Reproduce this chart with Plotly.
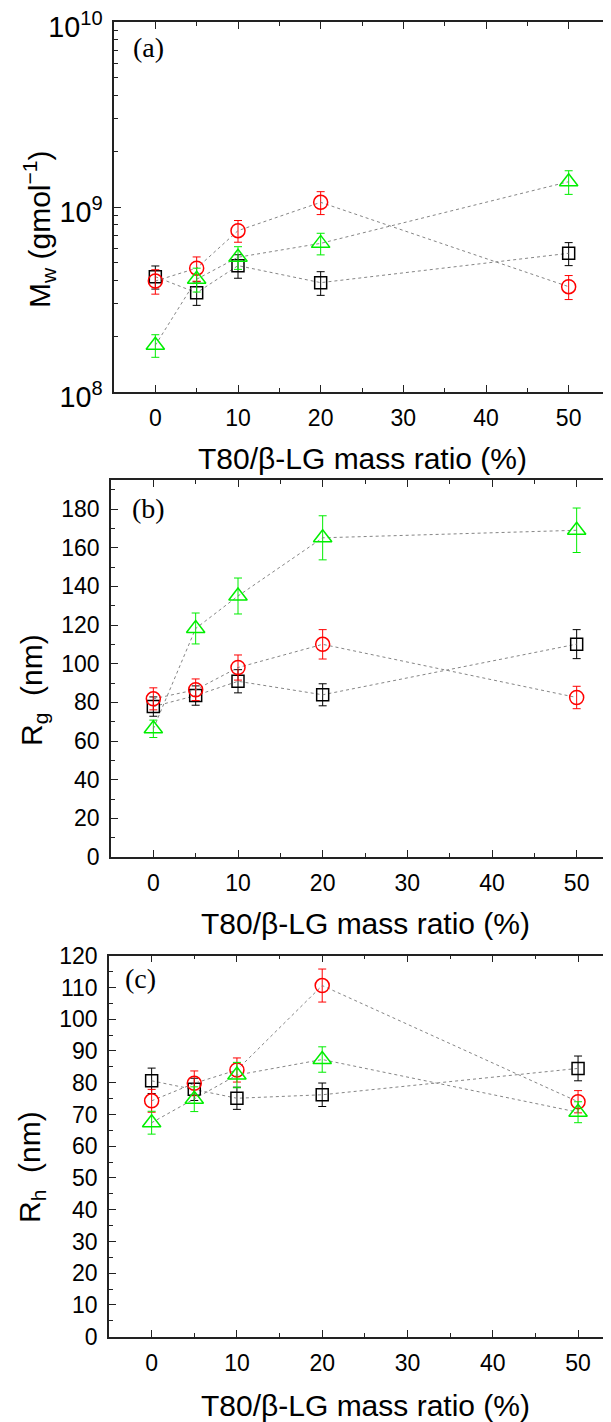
import plotly.graph_objects as go

# ---------------- data ----------------
ratio = [0, 5, 10, 20, 50]

mw_black = [4.2e8, 3.44e8, 4.82e8, 3.9e8, 5.62e8]
mw_black_err = [0.6e8, 0.5e8, 0.7e8, 0.57e8, 0.8e8]
mw_red = [3.98e8, 4.67e8, 7.45e8, 1.06e9, 3.71e8]
mw_red_err = [0.6e8, 0.7e8, 1.0e8, 1.5e8, 0.55e8]
mw_green = [1.79e8, 4.07e8, 5.35e8, 6.36e8, 1.37e9]
mw_green_err = [0.25e8, 0.6e8, 0.75e8, 0.85e8, 0.2e9]

rg_black = [77.8, 83.5, 90.9, 83.9, 110.1]
rg_black_err = [5.0, 5.0, 6.0, 5.7, 7.5]
rg_red = [81.8, 86.5, 98.0, 110.0, 82.5]
rg_red_err = [5.7, 5.6, 6.5, 7.6, 5.8]
rg_green = [66.3, 118.2, 135.0, 165.1, 169.0]
rg_green_err = [4.5, 8.0, 9.3, 11.4, 11.5]

rh_black = [80.6, 77.9, 75.1, 76.2, 84.5]
rh_black_err = [4.0, 3.5, 3.5, 3.7, 3.9]
rh_red = [74.3, 79.8, 84.0, 110.6, 74.0]
rh_red_err = [3.6, 3.9, 3.8, 5.2, 3.5]
rh_green = [67.4, 74.8, 82.4, 87.3, 70.7]
rh_green_err = [3.6, 3.9, 4.0, 4.0, 3.3]

x_title = "T80/β-LG mass ratio (%)"
y_titles = ["M<sub>w</sub> (gmol<sup>−1</sup>)", "R<sub>g</sub>  (nm)", "R<sub>h</sub>  (nm)"]
panel_labels = ["(a)", "(b)", "(c)"]
mw_log_range = [8, 10]  # 1e8 .. 1e10

# ---------------- style ----------------
W, H = 611, 1422
OFF = 8  # page body margin offset of the figure div
BLACK, RED, GREEN = "#000000", "#ff0000", "#00ee00"
LINE = dict(color="rgba(120,120,120,0.9)", width=1, dash="dot")
SANS = "Liberation Sans, Arial, sans-serif"
SERIF = "Liberation Serif, Times New Roman, serif"

series = [
    (BLACK, "square-open", 12),
    (RED, "circle-open", 14),
    (GREEN, "triangle-up-open", 16),
]

panels = [
    ([mw_black, mw_red, mw_green], [mw_black_err, mw_red_err, mw_green_err]),
    ([rg_black, rg_red, rg_green], [rg_black_err, rg_red_err, rg_green_err]),
    ([rh_black, rh_red, rh_green], [rh_black_err, rh_red_err, rh_green_err]),
]

fig = go.Figure()
for p, (vals, errs) in enumerate(panels):
    xa = "x" if p == 0 else f"x{p+1}"
    ya = "y" if p == 0 else f"y{p+1}"
    for (col, sym, size), v, e in zip(series, vals, errs):
        fig.add_trace(go.Scatter(
            x=ratio, y=v, xaxis=xa, yaxis=ya, mode="lines+markers",
            line=LINE,
            marker=dict(symbol=sym, size=size, color=col, line=dict(width=1.5, color=col)),
            error_y=dict(type="data", array=e, visible=True, color=col, thickness=1, width=4),
            showlegend=False, cliponaxis=False,
        ))

# screen-pixel geometry (top, bottom, left, right px; x-range)
geo = [
    (22, 392, 114, 610, [-5, 55]),
    (480, 857, 111, 619, [-5, 55]),
    (955.7, 1336.7, 109, 619, [-5, 54.8]),
]


def fx(px):
    return (px - OFF) / W


def fy(py):
    return 1 - (py - OFF) / H


axis_common = dict(
    showline=True, linecolor="#222", linewidth=1.5,
    ticks="inside", ticklen=7, tickwidth=1.3, tickcolor="#222",
    showgrid=False, zeroline=False, automargin=False,
    tickfont=dict(family=SANS, size=23, color="black"),
    ticklabelstandoff=5, ticklabeloverflow="allow",
)

layout = dict(
    template="none",
    width=W, height=H, margin=dict(l=0, r=0, t=0, b=0, pad=0),
    paper_bgcolor="white", plot_bgcolor="white",
)

annotations = []
for p, (top, bot, left, right, xr) in enumerate(geo):
    sfx = "" if p == 0 else str(p + 1)
    xdom = [fx(left), min(1.0, fx(right))]
    ydom = [fy(bot), fy(top)]
    minor_common = dict(ticks="inside", ticklen=4, tickwidth=1.2, tickcolor="#222", showgrid=False)
    xaxis = dict(axis_common, domain=xdom, range=xr, anchor="y" + sfx,
                 tickmode="array", tickvals=[0, 10, 20, 30, 40, 50],
                 mirror="ticks",
                 minor=dict(minor_common, dtick=5, tick0=0))
    if p == 0:
        yaxis = dict(axis_common, domain=ydom, type="log", range=mw_log_range, dtick=1,
                     exponentformat="power", ticklabelshift=5,
                     anchor="x", mirror="ticks",
                     minor=dict(minor_common, dtick="D1"))
    elif p == 1:
        yaxis = dict(axis_common, domain=ydom, range=[0, 195], dtick=20, tick0=0,
                     anchor="x2", mirror=False,
                     minor=dict(minor_common, dtick=10, tick0=0))
    else:
        yaxis = dict(axis_common, domain=ydom, range=[0, 120], dtick=10, tick0=0,
                     anchor="x3", mirror=False,
                     minor=dict(minor_common, dtick=5, tick0=0))
    layout["xaxis" + sfx] = xaxis
    layout["yaxis" + sfx] = yaxis

# titles and panel labels (screen pixel positions)
xt_pos = [(362, 458), (365, 923), (365, 1405)]
yt_pos = [(39, 230), (33, 690), (31, 1167)]
pl_pos = [(148, 47), (148, 508), (140, 978)]
for p in range(3):
    xc, yc = xt_pos[p]
    annotations.append(dict(text=x_title, x=fx(xc), y=fy(yc), xref="paper", yref="paper",
                            showarrow=False, xanchor="center", yanchor="middle",
                            font=dict(family=SANS, size=30, color="black")))
    xc, yc = yt_pos[p]
    annotations.append(dict(text=y_titles[p], x=fx(xc), y=fy(yc), xref="paper", yref="paper",
                            showarrow=False, xanchor="center", yanchor="middle", textangle=-90,
                            font=dict(family=SANS, size=30, color="black")))
    xc, yc = pl_pos[p]
    annotations.append(dict(text=panel_labels[p], x=fx(xc), y=fy(yc), xref="paper", yref="paper",
                            showarrow=False, xanchor="center", yanchor="middle",
                            font=dict(family=SERIF, size=28, color="black")))

layout["annotations"] = annotations
fig.update_layout(**layout)
fig.write_html("out.html")
